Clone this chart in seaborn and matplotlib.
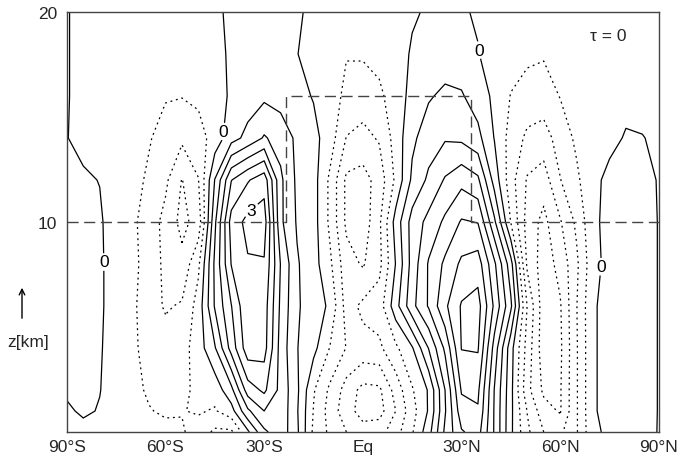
import numpy as np
import matplotlib
matplotlib.use('Agg')
import matplotlib.pyplot as plt
import seaborn as sns

sns.set_style('white')
plt.rcParams['font.family'] = ['Liberation Sans', 'DejaVu Sans']

# grid of the field: 5 deg steps from 90S to 90N
lats = list(range(-90, 95, 5))
heights = [0, 1, 2, 4, 6, 8, 10, 12, 14, 16, 18, 20]

z00 = [-0.15, -0.1, -0.15, -0.25, -0.35, -0.4, -0.4, -0.45, -0.7,
       -1.1, -1.1, -0.1, 0.9, 1.3, 0.6, -0.6, -1.1, -1.5,
       -1.8, -1.7, -1.2, -0.55, 0.3, 1.6, 2.45, 2.7, 1.45,
       0.1, -0.9, -1.5, -1.6, -1.05, -0.1, 0.1, 0.15, 0.15, -0.02]
z01 = [-0.05, 0.05, -0.02, -0.2, -0.4, -0.48, -0.55, -0.52, -0.45,
       -0.55, -0.2, 0.9, 1.5, 1.35, 0.55, -0.52, -1.2, -1.8,
       -2.2, -2.2, -1.5, -0.7, 0.05, 1.45, 2.8, 2.95, 1.45,
       0.12, -1.02, -1.8, -2.05, -1.05, -0.05, 0.15, 0.2, 0.2, -0.02]
z02 = [0.05, 0.1, 0.01, -0.15, -0.4, -0.55, -0.65, -0.6, -0.4,
       -0.3, 0.35, 1.75, 2.1, 1.35, 0.6, -0.45, -1.1, -1.7,
       -2.15, -2.1, -1.3, -0.55, 0.05, 1.5, 3.05, 3.1, 1.48,
       0.15, -1.35, -2.1, -2.05, -1.05, -0.05, 0.15, 0.2, 0.2, -0.02]
z04 = [0.15, 0.15, 0.03, -0.15, -0.4, -0.7, -0.8, -0.7, -0.25,
       0.45, 1.7, 2.8, 2.7, 1.3, 0.52, 0.15, -0.52, -1.02,
       -1.15, -1.1, -0.6, -0.05, 1.02, 2.1, 3.52, 3.55, 1.8,
       0.2, -1.2, -2.3, -2.1, -1.05, -0.05, 0.15, 0.2, 0.2, -0.02]
z06 = [0.2, 0.15, 0.05, -0.15, -0.4, -0.8, -1.05, -0.95, -0.3,
       1.05, 1.98, 2.95, 2.75, 1.4, 0.55, 0.3, -0.1, -1.2,
       -0.9, -0.75, 0.3, 1.35, 2.05, 2.9, 3.55, 3.7, 2.4,
       1.1, -1.02, -2.3, -2.05, -1.02, -0.05, 0.15, 0.2, 0.2, -0.02]
z08 = [0.2, 0.15, 0.05, -0.15, -0.35, -0.75, -1.1, -1.35, -0.6,
       1.1, 2.52, 2.95, 2.95, 1.48, 0.55, 0.2, -0.4, -1.3,
       -1.55, -1.15, 0.02, 1.2, 2.05, 2.6, 3.1, 3.25, 2.1,
       0.7, -1.6, -2.25, -1.85, -1.1, -0.15, 0.15, 0.2, 0.2, -0.02]
z10 = [0.2, 0.15, 0.05, -0.2, -0.4, -0.75, -1.15, -1.65, -1.3,
       0.9, 2.7, 3.15, 3.25, 1.1, 0.45, 0.2, -0.6, -1.6,
       -1.8, -1.1, 0.2, 1.2, 1.65, 2.1, 2.55, 2.48, 1.1,
       -0.52, -1.7, -2.15, -1.55, -0.9, -0.1, 0.15, 0.2, 0.2, -0.02]
z12 = [0.15, 0.05, -0.01, -0.15, -0.3, -0.6, -0.9, -1.52, -1.02,
       0.52, 1.98, 2.45, 2.8, 1.1, 0.4, 0.2, -0.6, -1.6,
       -1.7, -1.3, -0.4, 0.6, 1.1, 1.55, 1.85, 1.6, 0.3,
       -0.8, -1.55, -1.75, -1.02, -0.6, -0.1, 0.1, 0.15, 0.1, -0.02]
z14 = [0.01, -0.1, -0.2, -0.2, -0.3, -0.45, -0.75, -0.9, -0.7,
       -0.3, 0.3, 0.65, 1.05, 0.8, 0.4, 0.15, -0.25, -1.02,
       -1.15, -0.95, -0.3, 0.4, 0.75, 0.95, 0.9, 0.65, -0.02,
       -0.7, -1.1, -1.2, -0.8, -0.4, -0.25, -0.1, 0.03, 0.01, -0.05]
z16 = [0.02, -0.1, -0.15, -0.2, -0.25, -0.35, -0.45, -0.48, -0.4,
       -0.15, 0.05, 0.25, 0.4, 0.3, 0.15, -0.03, -0.3, -0.6,
       -0.75, -0.6, -0.25, 0.15, 0.45, 0.6, 0.55, 0.25, -0.1,
       -0.52, -0.7, -0.75, -0.48, -0.35, -0.25, -0.15, -0.1, -0.1, -0.1]
z18 = [0.02, -0.1, -0.15, -0.2, -0.2, -0.25, -0.3, -0.3, -0.25,
       -0.1, 0.05, 0.15, 0.2, 0.15, 0.01, -0.15, -0.3, -0.48,
       -0.45, -0.35, -0.2, 0.05, 0.15, 0.25, 0.2, 0.02, -0.2,
       -0.3, -0.4, -0.45, -0.4, -0.3, -0.2, -0.15, -0.1, -0.1, -0.1]
z20 = [0.02, -0.1, -0.15, -0.15, -0.15, -0.15, -0.15, -0.15, -0.1,
       -0.05, 0.05, 0.1, 0.1, 0.08, 0.03, -0.05, -0.15, -0.25,
       -0.25, -0.2, -0.15, -0.05, 0.05, 0.1, 0.05, -0.05, -0.1,
       -0.15, -0.2, -0.2, -0.2, -0.15, -0.1, -0.1, -0.05, -0.05, -0.05]

rows = [z00, z01, z02, z04, z06, z08, z10, z12, z14, z16, z18, z20]
field = np.array(rows)

neg_levels = [-2.5, -2.0, -1.5, -1.0, -0.5]
pos_levels = [0.5, 1.0, 1.5, 2.0, 2.5, 3.5]

# tropopause box (dashed)
trop_lat = [-90, -23.5, -23.5, 33, 33, 90]
trop_z = [10, 10, 16, 16, 10, 10]

tick_pos = [-90, -60, -30, 0, 30, 60, 90]
tick_lab = ['90°S', '60°S', '30°S', 'Eq', '30°N', '60°N', '90°N']

fig = plt.figure(figsize=(6.82, 4.6), dpi=100)
ax = fig.add_axes([0.098, 0.0587, 0.868, 0.913])

cn = ax.contour(lats, heights, field, levels=neg_levels, colors='k',
                linewidths=0.9, linestyles='dotted')
cn.set_linestyle((0, (1.5, 3)))
ax.contour(lats, heights, field, levels=pos_levels, colors='k',
           linewidths=0.9, linestyles='solid')
c0 = ax.contour(lats, heights, field, levels=[0.0], colors='k',
                linewidths=0.9, linestyles='solid')
c3 = ax.contour(lats, heights, field, levels=[3.0], colors='k',
                linewidths=0.9, linestyles='solid')
ax.clabel(c0, inline=True, inline_spacing=4, fontsize=12.5, fmt='%.0f',
          manual=[(-77.5, 8.1), (-42, 14.3), (36, 18.2), (70.5, 7.9)])
ax.clabel(c3, inline=True, inline_spacing=4, fontsize=12.5, fmt='%.0f',
          manual=[(-33, 10.4)])
for t in c0.labelTexts + c3.labelTexts:
    t.set_rotation(0)

sns.lineplot(x=trop_lat, y=trop_z, sort=False, estimator=None, ax=ax,
             color='#444444', linewidth=1.0, linestyle=(0, (8, 4)))

ax.set_xlim(-90, 90)
ax.set_ylim(0, 20)
ax.set_xticks(tick_pos, tick_lab)
ax.set_yticks([10, 20])
ax.tick_params(axis='x', direction='in', length=4, width=0.8, labelsize=12.5, pad=5)
ax.tick_params(axis='y', length=0, labelsize=12.5, pad=7)
for sp in ax.spines.values():
    sp.set_color('#444444')
    sp.set_linewidth(1.0)

ax.text(0.883, 0.943, 'τ = 0', transform=ax.transAxes, fontsize=12.5,
        ha='left', va='center')
fig.text(28 / 682, 1 - 342 / 460, 'z[km]', fontsize=12.5, ha='center', va='center')
ax.annotate('', xy=(22 / 682, 1 - 286 / 460), xytext=(22 / 682, 1 - 322 / 460),
            xycoords='figure fraction', textcoords='figure fraction',
            arrowprops=dict(arrowstyle='->', lw=1.0, color='k'))

fig.savefig('out.png', dpi=100)
